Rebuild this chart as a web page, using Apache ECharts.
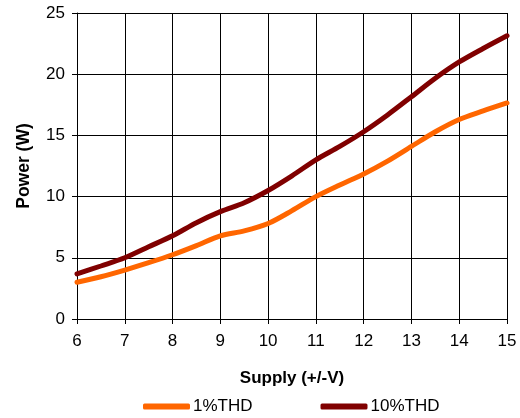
<!DOCTYPE html>
<html><head><meta charset="utf-8">
<script src="https://cdn.jsdelivr.net/npm/echarts@6/dist/echarts.min.js"></script>
<style>html,body{margin:0;padding:0;background:#fff}#c{width:520px;height:418px}</style>
</head><body><div id="c"></div>
<script>
const supply = [6,6.5,7,7.5,8,8.5,9,9.5,10,10.5,11,11.5,12,12.5,13,13.5,14,14.5,15];
const thd1 = [3.0,3.45,4.0,4.6,5.25,6.0,6.8,7.2,7.8,8.85,10.0,10.95,11.85,12.9,14.1,15.3,16.3,17.0,17.65];
const thd10 = [3.68,4.33,5.0,5.9,6.8,7.87,8.77,9.5,10.5,11.7,13.0,14.1,15.3,16.67,18.16,19.67,21.0,22.1,23.14];
const seriesNames = ['1%THD','10%THD'];
const xTicks = [6,7,8,9,10,11,12,13,14,15];
const yTicks = [0,5,10,15,20,25];

const font = 'Liberation Sans, Arial, sans-serif';
const chart = echarts.init(document.getElementById('c'));
const mk = (arr) => supply.map((x,i)=>[x,arr[i]]);
chart.setOption({
  animation:false,
  grid:{left:77,right:13,top:13,bottom:99},
  legend:{
    top:398,left:143,padding:0,itemGap:68,itemWidth:47,itemHeight:6,icon:'roundRect',
    textStyle:{fontFamily:font,fontSize:17,color:'#000',padding:[0,0,0,-2]},
    data:seriesNames
  },
  xAxis:{
    type:'value',min:6,max:15,interval:1,
    name:'Supply (+/-V)',nameLocation:'middle',nameGap:51,
    nameTextStyle:{fontFamily:font,fontSize:17,fontWeight:'bold',color:'#000'},
    axisLine:{lineStyle:{color:'#000',width:1}},
    axisTick:{show:true,length:5,lineStyle:{color:'#000'}},
    axisLabel:{fontFamily:font,fontSize:17,color:'#000',margin:14,formatter:v=>xTicks.includes(v)?String(v):''},
    splitLine:{show:true,lineStyle:{color:'#000',width:1}}
  },
  yAxis:{
    type:'value',min:0,max:25,interval:5,
    name:'Power (W)',nameLocation:'middle',nameGap:44,
    nameTextStyle:{fontFamily:font,fontSize:17.5,fontWeight:'bold',color:'#000'},
    axisLine:{show:true,lineStyle:{color:'#000',width:1}},
    axisTick:{show:true,length:5,lineStyle:{color:'#000'}},
    axisLabel:{fontFamily:font,fontSize:17,color:'#000',margin:12,formatter:v=>yTicks.includes(v)?String(v):''},
    splitLine:{show:true,lineStyle:{color:'#000',width:1}}
  },
  series:[
    {name:seriesNames[0],type:'line',data:mk(thd1),smooth:0.3,symbol:'none',
     lineStyle:{color:'#FF6600',width:5,cap:'round'},itemStyle:{color:'#FF6600'}},
    {name:seriesNames[1],type:'line',data:mk(thd10),smooth:0.3,symbol:'none',
     lineStyle:{color:'#800000',width:5,cap:'round'},itemStyle:{color:'#800000'}}
  ]
});
</script></body></html>
